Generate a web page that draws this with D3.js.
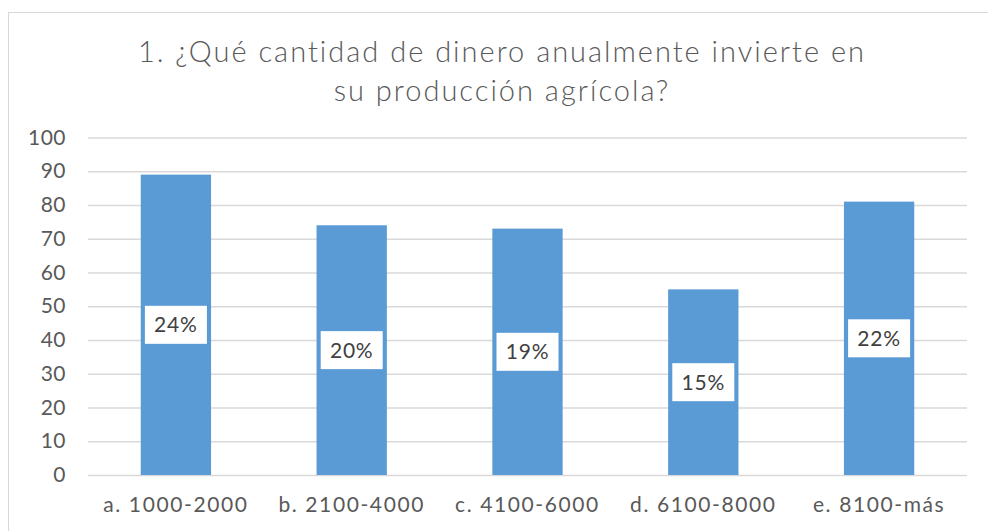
<!DOCTYPE html>
<html>
<head>
<meta charset="utf-8">
<script src="https://cdn.jsdelivr.net/npm/d3@7"></script>
<style>
  body { margin: 0; background: #fff; }
  svg text { font-family: Lato, "Open Sans", sans-serif; fill: #595959; }
</style>
</head>
<body>
<div class="main"></div>
<script>
  var categories = ["a. 1000-2000", "b. 2100-4000", "c. 4100-6000", "d. 6100-8000", "e. 8100-más"];
  var values = [89, 74, 73, 55, 81];
  var percentLabels = ["24%", "20%", "19%", "15%", "22%"];
  var yTicks = [0, 10, 20, 30, 40, 50, 60, 70, 80, 90, 100];
  var titleLines = ["1. ¿Qué cantidad de dinero anualmente invierte en", "su producción agrícola?"];

  var width = 988, height = 531;
  var plot = { left: 88, right: 967, top: 137.5, bottom: 475 };

  var svg = d3.select(".main")
    .append("svg")
      .attr("width", width)
      .attr("height", height)

  // chart frame
  svg.append("rect")
      .attr("x", 8.5)
      .attr("y", 12.5)
      .attr("width", 1000)
      .attr("height", 540)
      .style("fill", "none")
      .style("stroke", "#d9d9d9")
      .style("stroke-width", 1)

  svg.selectAll(".title")
    .data(titleLines)
    .enter()
    .append("text")
      .attr("class", "title")
      .attr("x", 502)
      .attr("y", function(d, i) { return 62 + i * 39; })
      .text(function(d) { return d; })
      .style("text-anchor", "middle")
      .style("font-size", "29px")
      .style("font-weight", 300)
      .style("letter-spacing", "2px")

  var x = d3.scaleBand()
    .domain(categories)
    .range([plot.left, plot.right])
    .paddingInner(0.6)
    .paddingOuter(0.3)

  var y = d3.scaleLinear()
    .domain([0, 100])
    .range([plot.bottom, plot.top])

  // gridlines
  svg.append("g")
      .attr("transform", "translate(" + plot.left + ",0)")
      .call(d3.axisLeft(y).tickValues(yTicks).tickSize(-(plot.right - plot.left)).tickFormat(""))
      .call(function(g) { g.select(".domain").remove(); })
      .selectAll("line")
        .style("stroke", "#d9d9d9")
        .style("stroke-width", 1.5)

  // y labels
  var yAxis = svg.append("g")
      .attr("transform", "translate(66,0)")
      .call(d3.axisLeft(y).tickValues(yTicks).tickSize(0).tickPadding(0))
  yAxis.select(".domain").remove()
  yAxis.selectAll("text")
      .style("font-size", "21px")
      .style("fill", "#595959")
      .style("font-family", "Lato, sans-serif")
      .style("letter-spacing", "0.5px")

  svg.selectAll(".bar")
    .data(values)
    .enter()
    .append("rect")
      .attr("class", "bar")
      .attr("x", function(d, i) { return x(categories[i]); })
      .attr("y", function(d) { return y(d); })
      .attr("width", x.bandwidth())
      .attr("height", function(d) { return y(0) - y(d); })
      .style("fill", "#5b9bd5")

  // x labels
  var xAxis = svg.append("g")
      .attr("transform", "translate(0," + plot.bottom + ")")
      .call(d3.axisBottom(x).tickSize(0).tickPadding(22))
  xAxis.select(".domain").remove()
  xAxis.selectAll("text")
      .style("font-size", "21px")
      .style("fill", "#595959")
      .style("font-family", "Lato, sans-serif")
      .style("letter-spacing", "1.6px")

  // data labels
  var labels = svg.selectAll(".lbl")
    .data(values)
    .enter()
    .append("g")
      .attr("class", "lbl")
      .attr("transform", function(d, i) {
        return "translate(" + (x(categories[i]) + x.bandwidth() / 2) + "," + (y(d / 2)) + ")";
      })

  labels.append("rect")
      .attr("x", -31)
      .attr("y", -19)
      .attr("width", 62)
      .attr("height", 38)
      .style("fill", "#fff")

  labels.append("text")
      .attr("y", 7.5)
      .text(function(d, i) { return percentLabels[i]; })
      .style("text-anchor", "middle")
      .style("font-size", "21px")
      .style("letter-spacing", "0.8px")
      .style("fill", "#404040")
</script>
</body>
</html>
